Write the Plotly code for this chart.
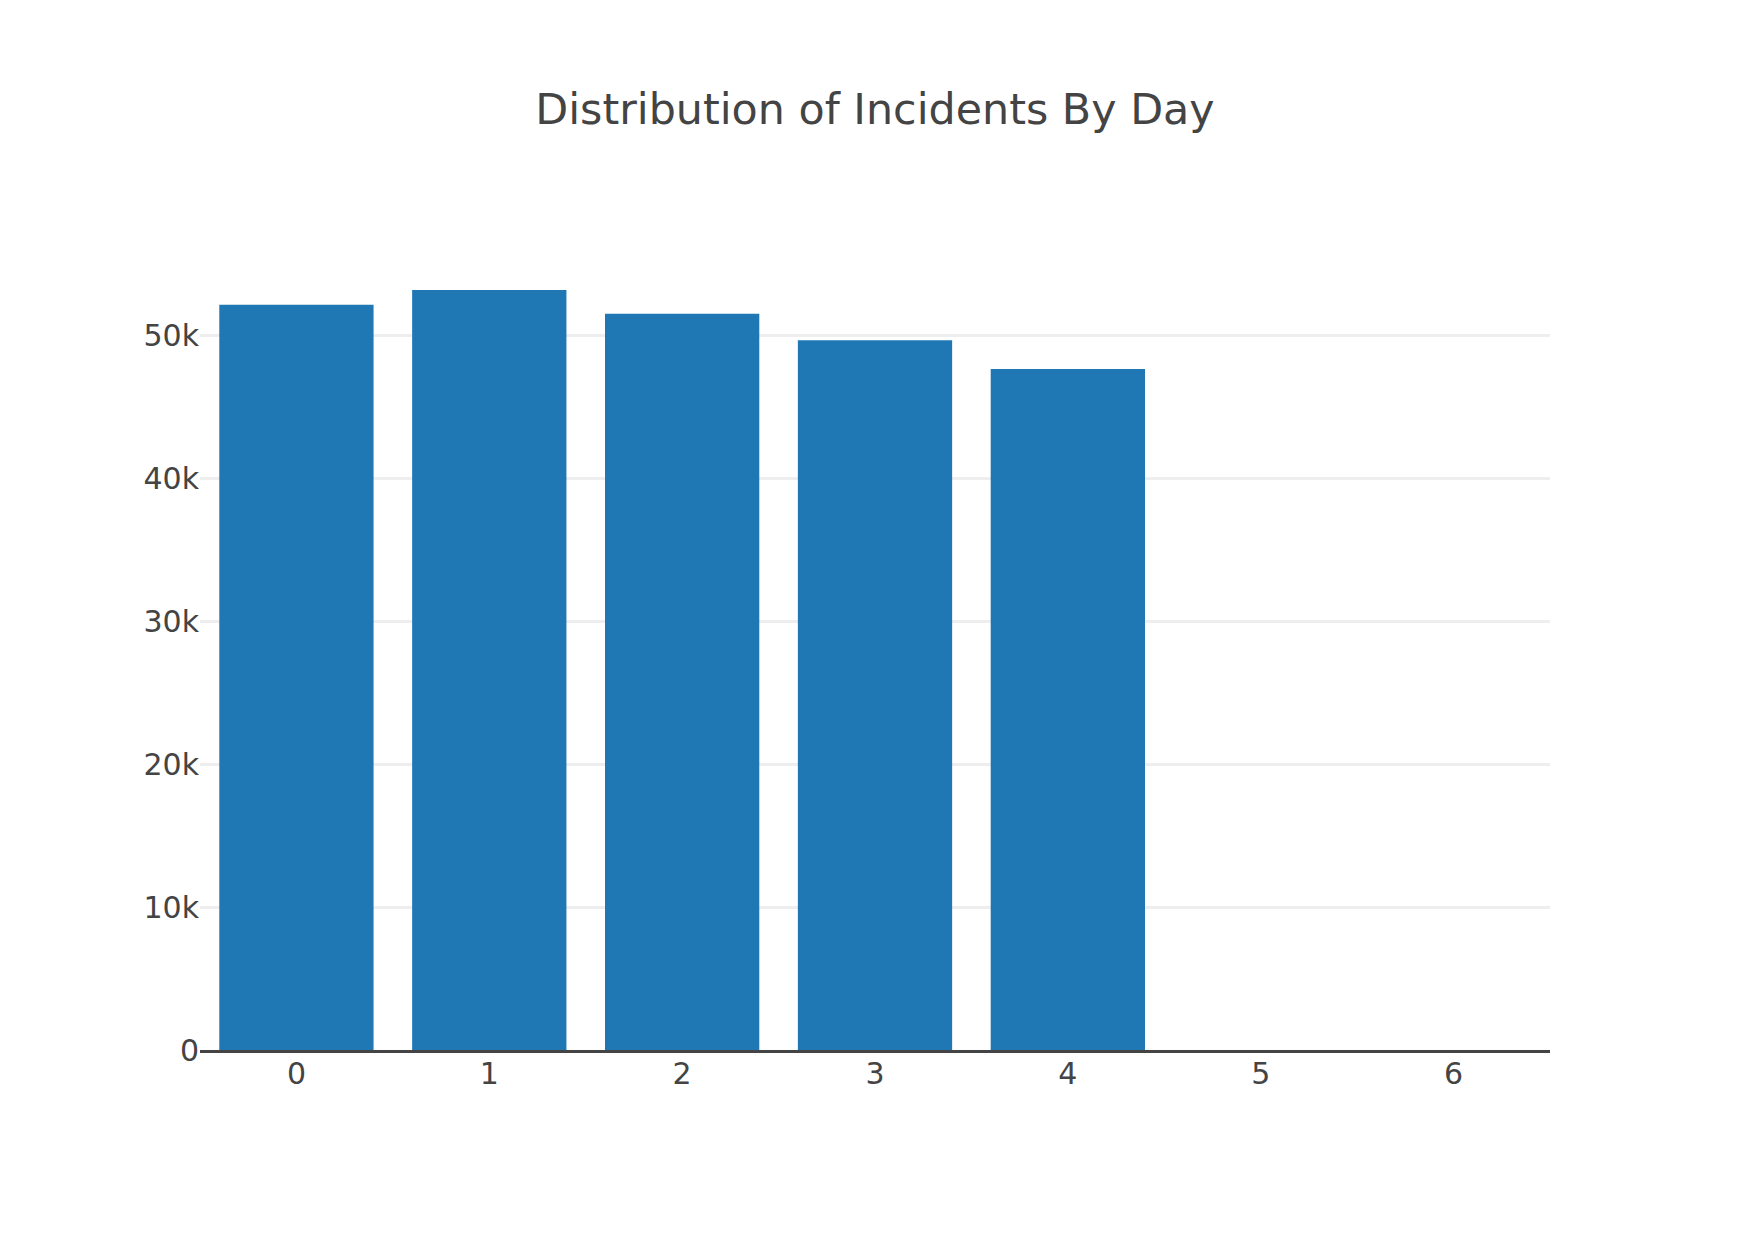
import plotly.graph_objects as go

days = [0, 1, 2, 3, 4, 5, 6]
incidents = [52190, 53220, 51560, 49700, 47690, 0, 0]
title_text = "Distribution of Incidents By Day"

fig = go.Figure(
    go.Bar(x=days, y=incidents, marker=dict(color="#1f77b4"))
)

fig.update_layout(
    width=1750,
    height=1250,
    template="none",
    paper_bgcolor="white",
    plot_bgcolor="white",
    font=dict(family="DejaVu Sans, Verdana, sans-serif", size=30, color="#444"),
    title=dict(text=title_text, x=0.4954, xanchor="center", xref="container", yref="container",
               y=0.919, yanchor="middle", font=dict(size=42.8, color="#444")),
    margin=dict(l=192, r=208, t=242, b=208),
    bargap=0.2,
    showlegend=False,
)
fig.update_xaxes(
    type="linear",
    tickmode="array",
    tickvals=days,
    ticktext=[str(d) for d in days],
    range=[-0.5, 6.5],
    showgrid=False,
    zeroline=False,
    showline=True,
    linecolor="#444",
    linewidth=2.5,
    ticks="",
    ticklabelstandoff=-5,
)
fig.update_yaxes(
    tickvals=[0, 10000, 20000, 30000, 40000, 50000],
    ticktext=["0", "10k", "20k", "30k", "40k", "50k"],
    gridcolor="#eee",
    gridwidth=2.5,
    zeroline=False,
    showline=False,
    ticks="",
)

fig.write_html("out.html")
